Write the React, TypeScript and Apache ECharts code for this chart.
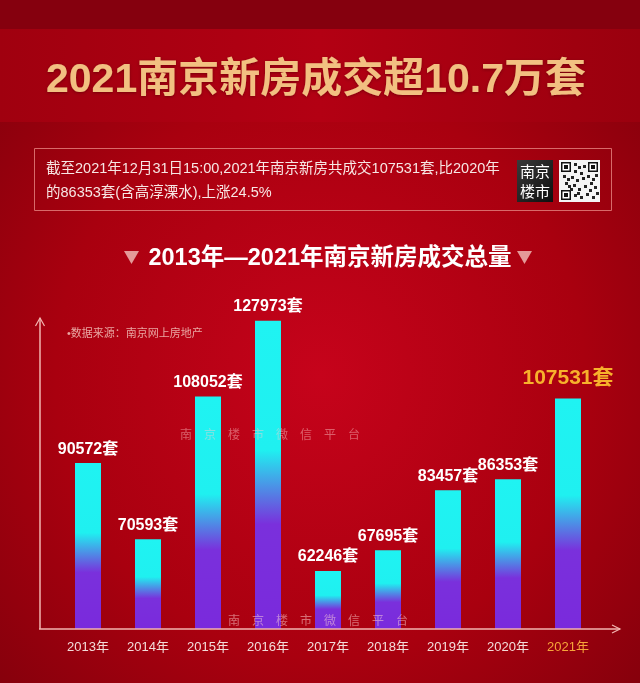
import React, { useEffect, useRef } from "react";
import * as echarts from "echarts";

const years = ["2013年", "2014年", "2015年", "2016年", "2017年", "2018年", "2019年", "2020年", "2021年"];
const sales = [90572, 70593, 108052, 127973, 62246, 67695, 83457, 86353, 107531];
const highlightYear = "2021年";

const titleText = "2021南京新房成交超10.7万套";
const infoLine1 = "截至2021年12月31日15:00,2021年南京新房共成交107531套,比2020年";
const infoLine2 = "的86353套(含高淳溧水),上涨24.5%";
const subTitle = "2013年—2021年南京新房成交总量";
const sourceNote = "•数据来源：南京网上房地产";
const watermark = "南　京　楼　市　微　信　平　台";

const FONT = "'Liberation Sans', 'Noto Sans CJK SC', sans-serif";

export default function App() {
  const ref = useRef<HTMLDivElement>(null);

  useEffect(() => {
    if (!ref.current) return;
    const chart = echarts.init(ref.current, undefined, { renderer: "svg" });

    const barGradient = new echarts.graphic.LinearGradient(0, 0, 0, 1, [
      { offset: 0, color: "#1FF3F2" },
      { offset: 0.42, color: "#1FF0F0" },
      { offset: 0.66, color: "#7A30DC" },
      { offset: 1, color: "#7A2ADC" },
    ]);

    const axisColor = "#F2B5B0";

    const qrBlocks: any[] = [];
    const finder = (x: number, y: number) => {
      qrBlocks.push({ type: "rect", z: 12, shape: { x, y, width: 10, height: 10 }, style: { fill: "#111" } });
      qrBlocks.push({ type: "rect", z: 13, shape: { x: x + 1.5, y: y + 1.5, width: 7, height: 7 }, style: { fill: "#fff" } });
      qrBlocks.push({ type: "rect", z: 14, shape: { x: x + 3, y: y + 3, width: 4, height: 4 }, style: { fill: "#111" } });
    };
    finder(561, 162);
    finder(588, 162);
    finder(561, 190);
    const mods = [
      [574, 163], [578, 166], [574, 170], [580, 172], [563, 175], [567, 178], [571, 176], [576, 179],
      [582, 177], [587, 175], [592, 178], [595, 174], [573, 184], [578, 188], [584, 185], [589, 189],
      [594, 186], [574, 194], [580, 196], [586, 193], [592, 196], [596, 192], [565, 182], [570, 188],
      [583, 165], [577, 192], [590, 182], [568, 185],
    ];
    mods.forEach(([x, y]) =>
      qrBlocks.push({ type: "rect", z: 12, shape: { x, y, width: 3, height: 3 }, style: { fill: "#222" } })
    );

    const option: any = {
      animation: false,
      grid: { left: 58, right: 42, top: 313, bottom: 54 },
      xAxis: {
        type: "category",
        data: years.map((y) =>
          y === highlightYear ? { value: y, textStyle: { color: "#F6A53A" } } : y
        ),
        axisLine: { show: false },
        axisTick: { show: false },
        axisLabel: { color: "#F3DCDA", fontSize: 13, margin: 11, fontFamily: FONT },
      },
      yAxis: {
        type: "value",
        min: 47000,
        max: 130000,
        show: false,
        splitLine: { show: false },
      },
      series: [
        {
          type: "bar",
          barWidth: 26,
          z: 5,
          data: sales.map((v, i) =>
            years[i] === highlightYear
              ? { value: v, label: { color: "#F7B12C", fontSize: 21, distance: 12 } }
              : v
          ),
          itemStyle: { color: barGradient },
          label: {
            show: true,
            position: "top",
            distance: 7,
            formatter: "{c}套",
            color: "#FFFFFF",
            fontSize: 16,
            fontWeight: "bold",
            fontFamily: FONT,
          },
        },
      ],
      graphic: {
        elements: [
          {
            type: "rect",
            z: -100,
            silent: true,
            shape: { x: 0, y: 0, width: 640, height: 683 },
            style: {
              fill: new echarts.graphic.RadialGradient(0.5, 0.55, 0.75, [
                { offset: 0, color: "#C6031B" },
                { offset: 0.55, color: "#A9000F" },
                { offset: 1, color: "#7C000B" },
              ]),
            },
          },
          {
            type: "rect",
            z: -99,
            silent: true,
            shape: { x: 0, y: 0, width: 640, height: 29 },
            style: { fill: "#85000E" },
          },
          {
            type: "rect",
            z: -99,
            silent: true,
            shape: { x: 0, y: 29, width: 640, height: 93 },
            style: {
              fill: new echarts.graphic.LinearGradient(0, 0, 1, 0, [
                { offset: 0, color: "#A0000F" },
                { offset: 0.5, color: "#B30013" },
                { offset: 1, color: "#9A000E" },
              ]),
            },
          },
          {
            type: "text",
            z: 10,
            x: 316,
            y: 78,
            style: {
              text: titleText,
              fontSize: 41,
              fontWeight: "bold",
              fontFamily: FONT,
              align: "center",
              verticalAlign: "middle",
              fill: "#F2C081",
              textShadowColor: "rgba(60,0,0,0.45)",
              textShadowBlur: 3,
              textShadowOffsetY: 1,
            },
          },
          {
            type: "rect",
            z: 1,
            shape: { x: 34.5, y: 148.5, width: 577, height: 62 },
            style: { fill: "transparent", stroke: "#D86A6A", lineWidth: 1 },
          },
          {
            type: "text",
            z: 10,
            x: 46,
            y: 168,
            style: {
              text: infoLine1,
              fontSize: 14.5,
              fontFamily: FONT,
              fill: "#F7E6E4",
              align: "left",
              verticalAlign: "middle",
            },
          },
          {
            type: "text",
            z: 10,
            x: 46,
            y: 192,
            style: {
              text: infoLine2,
              fontSize: 14.5,
              fontFamily: FONT,
              fill: "#F7E6E4",
              align: "left",
              verticalAlign: "middle",
            },
          },
          {
            type: "rect",
            z: 10,
            shape: { x: 517, y: 160, width: 36, height: 42 },
            style: {
              fill: new echarts.graphic.LinearGradient(0, 0, 1, 1, [
                { offset: 0, color: "#3A3A3A" },
                { offset: 1, color: "#0E0E0E" },
              ]),
            },
          },
          {
            type: "text",
            z: 11,
            x: 535,
            y: 171,
            style: {
              text: "南京",
              fontSize: 15,
              fontFamily: FONT,
              fill: "#FFFFFF",
              align: "center",
              verticalAlign: "middle",
            },
          },
          {
            type: "text",
            z: 11,
            x: 535,
            y: 191,
            style: {
              text: "楼市",
              fontSize: 15,
              fontFamily: FONT,
              fill: "#FFFFFF",
              align: "center",
              verticalAlign: "middle",
            },
          },
          {
            type: "rect",
            z: 10,
            shape: { x: 559, y: 160, width: 41, height: 42 },
            style: { fill: "#F4F4F4" },
          },
          ...qrBlocks,
          {
            type: "polygon",
            z: 10,
            shape: { points: [[124, 251], [139, 251], [131.5, 264]] },
            style: { fill: "#E49A98" },
          },
          {
            type: "polygon",
            z: 10,
            shape: { points: [[517, 251], [532, 251], [524.5, 264]] },
            style: { fill: "#E49A98" },
          },
          {
            type: "text",
            z: 10,
            x: 330,
            y: 257,
            style: {
              text: subTitle,
              fontSize: 23.5,
              fontWeight: "bold",
              fontFamily: FONT,
              fill: "#FFFFFF",
              align: "center",
              verticalAlign: "middle",
            },
          },
          {
            type: "text",
            z: 10,
            x: 67,
            y: 333,
            style: {
              text: sourceNote,
              fontSize: 11,
              fontFamily: FONT,
              fill: "#E9A6A2",
              align: "left",
              verticalAlign: "middle",
            },
          },
          {
            type: "text",
            z: 20,
            x: 180,
            y: 435,
            style: {
              text: watermark,
              fontSize: 12,
              fontFamily: FONT,
              fill: "rgba(255,205,205,0.45)",
              align: "left",
              verticalAlign: "middle",
            },
          },
          {
            type: "text",
            z: 20,
            x: 228,
            y: 621,
            style: {
              text: watermark,
              fontSize: 12,
              fontFamily: FONT,
              fill: "rgba(255,215,215,0.5)",
              align: "left",
              verticalAlign: "middle",
            },
          },
          {
            type: "line",
            z: 9,
            shape: { x1: 39, y1: 629, x2: 620, y2: 629 },
            style: { stroke: axisColor, lineWidth: 1.5 },
          },
          {
            type: "polyline",
            z: 9,
            shape: { points: [[612, 625], [620, 629], [612, 633]] },
            style: { stroke: axisColor, lineWidth: 1.2, fill: "none" },
          },
          {
            type: "line",
            z: 9,
            shape: { x1: 40, y1: 629, x2: 40, y2: 318 },
            style: { stroke: axisColor, lineWidth: 1.5 },
          },
          {
            type: "polyline",
            z: 9,
            shape: { points: [[35.5, 326], [40, 318], [44.5, 326]] },
            style: { stroke: axisColor, lineWidth: 1.2, fill: "none" },
          },
        ],
      },
    };

    chart.setOption(option);
    return () => chart.dispose();
  }, []);

  return (
    <div
      ref={ref}
      style={{ position: "fixed", left: 0, top: 0, width: 640, height: 683 }}
    />
  );
}
